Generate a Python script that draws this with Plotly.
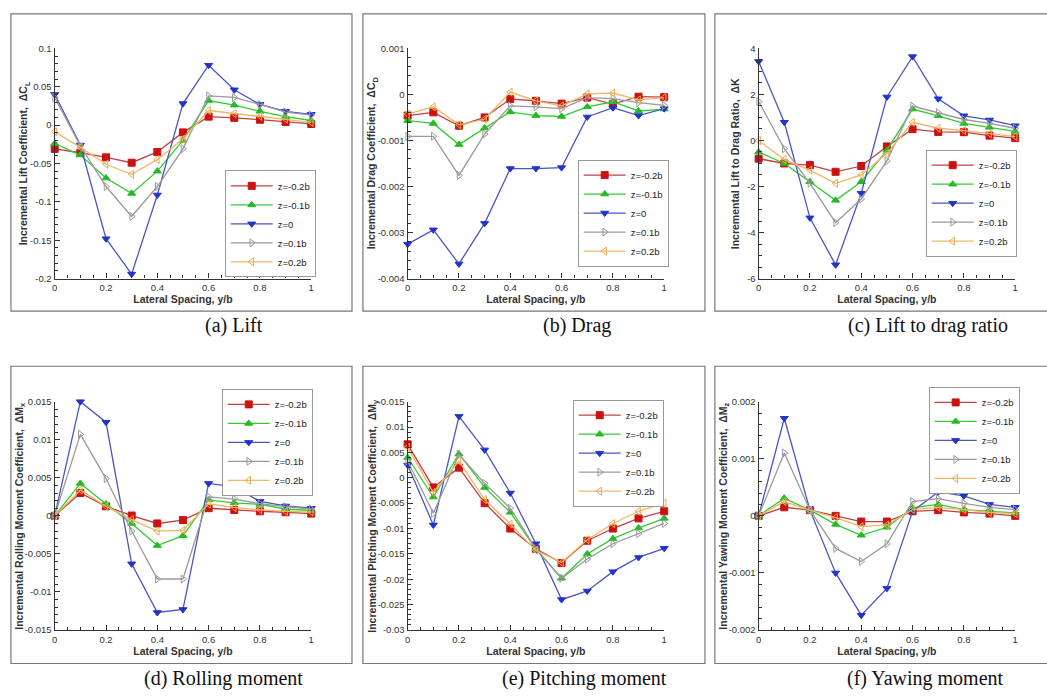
import plotly.graph_objects as go

W, H = 1047, 699

x_vals = [0, 0.1, 0.2, 0.3, 0.4, 0.5, 0.6, 0.7, 0.8, 0.9, 1.0]
series_names = ["z=-0.2b", "z=-0.1b", "z=0", "z=0.1b", "z=0.2b"]

# (a) Lift
lift_m02 = [-0.031, -0.036, -0.042, -0.049, -0.035, -0.0095, 0.011, 0.0095, 0.007, 0.004, 0.0015]
lift_m01 = [-0.024, -0.039, -0.069, -0.089, -0.060, -0.020, 0.032, 0.026, 0.018, 0.011, 0.006]
lift_0 = [0.040, -0.026, -0.148, -0.194, -0.091, 0.028, 0.078, 0.046, 0.027, 0.018, 0.014]
lift_p01 = [0.036, -0.027, -0.080, -0.119, -0.080, -0.031, 0.038, 0.036, 0.027, 0.017, 0.013]
lift_p02 = [-0.0085, -0.029, -0.051, -0.064, -0.045, -0.018, 0.019, 0.015, 0.0115, 0.0077, 0.0035]

# (b) Drag
drag_m02 = [-0.00046, -0.00039, -0.00068, -0.0005, -0.0001, -0.00014, -0.0002, -0.00007, -0.00021, -0.00005, -0.00006]
drag_m01 = [-0.00057, -0.00063, -0.00109, -0.00073, -0.00038, -0.00046, -0.00048, -0.00027, -0.00016, -0.00036, -0.00032]
drag_0 = [-0.00325, -0.00294, -0.00368, -0.0028, -0.00161, -0.00161, -0.00159, -0.00049, -0.00029, -0.00046, -0.00031]
drag_p01 = [-0.00091, -0.00091, -0.00176, -0.00086, -0.00025, -0.00027, -0.00031, -0.00007, -0.00009, -0.00018, -0.00024]
drag_p02 = [-0.00043, -0.00027, -0.00066, -0.00054, 0.00005, -0.00014, -0.00025, 0.00001, 0.00003, -0.00012, -0.00007]

# (c) Lift to drag ratio
ld_m02 = [-0.79, -1.0, -1.07, -1.36, -1.11, -0.26, 0.49, 0.37, 0.36, 0.21, 0.1]
ld_m01 = [-0.5, -1.0, -1.79, -2.6, -1.79, -0.43, 1.36, 1.07, 0.74, 0.57, 0.39]
ld_0 = [3.43, 0.79, -3.36, -5.4, -2.29, 1.89, 3.64, 1.81, 1.07, 0.89, 0.64]
ld_p01 = [1.69, -0.36, -1.86, -3.57, -2.54, -0.89, 1.49, 1.21, 0.91, 0.74, 0.53]
ld_p02 = [0.0, -0.83, -1.29, -1.86, -1.5, -0.57, 0.79, 0.53, 0.43, 0.29, 0.17]

# (d) Rolling moment
roll_m02 = [0, 0.003, 0.00125, 0.00004, -0.001, -0.00056, 0.001, 0.00077, 0.0006, 0.00047, 0.0003]
roll_m01 = [0, 0.00426, 0.00155, -0.001, -0.0039, -0.0026, 0.0021, 0.0017, 0.0015, 0.0009, 0.0007]
roll_0 = [0, 0.015, 0.0123, -0.0063, -0.0127, -0.0123, 0.00426, 0.0038, 0.0019, 0.0013, 0.001]
roll_p01 = [0, 0.0107, 0.0049, -0.002, -0.0083, -0.0083, 0.0025, 0.0022, 0.0016, 0.0012, 0.0009]
roll_p02 = [0, 0.0034, 0.00125, -0.0005, -0.002, -0.0019, 0.00155, 0.0011, 0.0008, 0.0006, 0.0005]

# (e) Pitching moment
pitch_m02 = [0.0066, -0.0019, 0.002, -0.005, -0.01, -0.014, -0.0168, -0.0124, -0.01, -0.008, -0.0066]
pitch_m01 = [0.004, -0.0038, 0.0047, -0.0019, -0.0068, -0.014, -0.0198, -0.015, -0.012, -0.0099, -0.008]
pitch_0 = [0.0025, -0.0093, 0.0121, 0.0055, -0.003, -0.013, -0.024, -0.0223, -0.0185, -0.0157, -0.0139]
pitch_p01 = [0.0033, -0.007, 0.0046, -0.0011, -0.006, -0.014, -0.0198, -0.016, -0.013, -0.011, -0.009]
pitch_p02 = [0.006, -0.0029, 0.0033, -0.0043, -0.0091, -0.0143, -0.0167, -0.0122, -0.009, -0.0066, -0.005]

# (f) Yawing moment
yaw_m02 = [0, 0.00015, 0.0001, 0, -0.0001, -0.0001, 0.00008, 0.0001, 0.00006, 0.00004, 0]
yaw_m01 = [0, 0.00031, 0.0001, -0.00015, -0.00034, -0.0002, 0.00014, 0.0002, 0.00011, 0.00008, 0.00005]
yaw_0 = [0, 0.00171, 0.0001, -0.001, -0.00174, -0.00127, 0.00008, 0.00042, 0.00035, 0.0002, 0.00015]
yaw_p01 = [0, 0.0011, 0.0001, -0.00057, -0.0008, -0.00049, 0.00025, 0.0003, 0.00022, 0.00015, 0.00011]
yaw_p02 = [0, 0.00025, 0.0001, -0.00003, -0.00019, -0.00016, 0.00011, 0.00015, 0.00011, 0.00006, 0.00004]

x_tick_vals = [0, 0.2, 0.4, 0.6, 0.8, 1.0]
x_tick_text = ["0", "0.2", "0.4", "0.6", "0.8", "1"]
x_title = "Lateral Spacing, y/b"

lift_ticks = [0.1, 0.05, 0, -0.05, -0.1, -0.15, -0.2]
lift_text = ["0.1", "0.05", "0", "-0.05", "-0.1", "-0.15", "-0.2"]
drag_ticks = [0.001, 0, -0.001, -0.002, -0.003, -0.004]
drag_text = ["0.001", "0", "-0.001", "-0.002", "-0.003", "-0.004"]
ld_ticks = [4, 2, 0, -2, -4, -6]
ld_text = ["4", "2", "0", "-2", "-4", "-6"]
roll_ticks = [0.015, 0.01, 0.005, 0, -0.005, -0.01, -0.015]
roll_text = ["0.015", "0.01", "0.005", "0", "-0.005", "-0.01", "-0.015"]
pitch_ticks = [0.015, 0.01, 0.005, 0, -0.005, -0.01, -0.015, -0.02, -0.025, -0.03]
pitch_text = ["0.015", "0.01", "0.005", "0", "-0.005", "-0.01", "-0.015", "-0.02", "-0.025", "-0.03"]
yaw_ticks = [0.002, 0.001, 0, -0.001, -0.002]
yaw_text = ["0.002", "0.001", "0", "-0.001", "-0.002"]

panels = [
    dict(data=[lift_m02, lift_m01, lift_0, lift_p01, lift_p02], ticks=lift_ticks, text=lift_text,
         minor=0.01, title="Incremental Lift Coefficient,  ΔC<sub>L</sub>", caption="(a) Lift"),
    dict(data=[drag_m02, drag_m01, drag_0, drag_p01, drag_p02], ticks=drag_ticks, text=drag_text,
         minor=0.0002, title="Incremental Drag Coefficient,  ΔC<sub>D</sub>", caption="(b) Drag"),
    dict(data=[ld_m02, ld_m01, ld_0, ld_p01, ld_p02], ticks=ld_ticks, text=ld_text,
         minor=0.5, title="Incremental Lift to Drag Ratio,  ΔK", caption="(c) Lift to drag ratio"),
    dict(data=[roll_m02, roll_m01, roll_0, roll_p01, roll_p02], ticks=roll_ticks, text=roll_text,
         minor=0.001, title="Incremental Rolling Moment Coefficient,  ΔM<sub>x</sub>", caption="(d) Rolling moment"),
    dict(data=[pitch_m02, pitch_m01, pitch_0, pitch_p01, pitch_p02], ticks=pitch_ticks, text=pitch_text,
         minor=0.001, title="Incremental Pitching Moment Coefficient,  ΔM<sub>y</sub>", caption="(e) Pitching moment"),
    dict(data=[yaw_m02, yaw_m01, yaw_0, yaw_p01, yaw_p02], ticks=yaw_ticks, text=yaw_text,
         minor=0.0002, title="Incremental Yawing Moment Coefficient,  ΔM<sub>z</sub>", caption="(f) Yawing moment"),
]

line_colors = ["#c44040", "#33cc33", "#4a56c0", "#9a9a9a", "#efb766"]
marker_colors = ["#cc1111", "#22bb22", "#2233cc", "#9a9a9a", "#e8aa55"]
symbols = ["square", "triangle-up", "triangle-down", "triangle-right-open", "triangle-left-open"]

# layout geometry in pixels
col_x = [(52, 310), (407, 665), (760, 1018)]
row_y = [(43, 277), (402, 634)]
boxes_x = [(8, 351), (362, 706), (716, 1060)]
boxes_y = [(8, 310), (366, 668)]
legend_pos = [(223, 167), (578, 156), (928, 146), (220, 389), (573, 400), (931, 387)]
caption_pos = [(232, 325), (577, 325), (930, 325), (222, 683), (585, 683), (928, 683)]
ytitle_x = [22, 372, 737, 17, 372, 725]

FONT = "Arial, 'Liberation Sans', sans-serif"

def px(xp):
    return xp / W

def py(yp):
    return 1 - yp / H

fig = go.Figure()
layout = dict(width=W, height=H, margin=dict(l=0, r=0, t=0, b=0),
              paper_bgcolor="white", plot_bgcolor="white",
              font=dict(family=FONT, size=10, color="#222"))
shapes = []
annotations = []

for i, p in enumerate(panels):
    r, c = divmod(i, 3)
    ax = "" if i == 0 else str(i + 1)
    leg = "legend" if i == 0 else f"legend{i + 1}"
    for k, name in enumerate(series_names):
        fig.add_trace(go.Scatter(
            x=x_vals, y=p["data"][k], name=name, mode="lines+markers",
            xaxis="x" + ax, yaxis="y" + ax, legend=leg, cliponaxis=False,
            line=dict(color=line_colors[k], width=1.3),
            marker=dict(symbol=symbols[k], size=7, color=marker_colors[k],
                        line=dict(color=marker_colors[k], width=1))))
    x0, x1 = col_x[c]
    y0, y1 = row_y[r]
    ymin, ymax = min(p["ticks"]), max(p["ticks"])
    layout["xaxis" + ax] = dict(
        domain=[px(x0), px(x1)], anchor="y" + ax, range=[0, 1],
        tickvals=x_tick_vals, ticktext=x_tick_text, ticks="inside", ticklen=5,
        tickcolor="#333", showline=True, linecolor="#333", linewidth=1.3,
        showgrid=False, zeroline=False, tickfont=dict(size=9.5, color="#333"),
        minor=dict(dtick=0.05, ticks="inside", ticklen=3, tickcolor="#333"),
        title=dict(text="<b>" + x_title + "</b>", standoff=1, font=dict(size=10.5, color="#333")))
    layout["yaxis" + ax] = dict(
        domain=[py(y1), py(y0)], anchor="x" + ax, range=[ymin, ymax],
        tickvals=p["ticks"], ticktext=p["text"], ticks="inside", ticklen=5,
        tickcolor="#333", showline=True, linecolor="#333", linewidth=1.3,
        showgrid=False, zeroline=False, tickfont=dict(size=9.5, color="#333"),
        minor=dict(dtick=p["minor"], ticks="inside", ticklen=3, tickcolor="#333"))
    annotations.append(dict(
        text="<b>" + p["title"] + "</b>", textangle=-90, xref="paper", yref="paper",
        x=px(ytitle_x[i]), y=py((y0 + y1) / 2), showarrow=False,
        font=dict(size=10.5, color="#333"), xanchor="center", yanchor="middle"))
    lx, ly = legend_pos[i]
    layout[leg] = dict(x=px(lx), y=py(ly), xanchor="left", yanchor="top",
                       bgcolor="white", bordercolor="#999", borderwidth=1,
                       itemwidth=42, font=dict(size=9.5, color="#222"),
                       tracegroupgap=0)
    bx0, bx1 = boxes_x[c]
    by0, by1 = boxes_y[r]
    shapes.append(dict(type="rect", xref="paper", yref="paper",
                       x0=px(bx0), x1=px(bx1), y0=py(by1), y1=py(by0),
                       line=dict(color="#777", width=1.2)))
    cx, cy = caption_pos[i]
    annotations.append(dict(
        text=p["caption"], xref="paper", yref="paper", x=px(cx), y=py(cy),
        showarrow=False, xanchor="center", yanchor="middle",
        font=dict(family="'Times New Roman', 'Liberation Serif', serif", size=20, color="#111")))

layout["shapes"] = shapes
layout["annotations"] = annotations
fig.update_layout(**layout)
fig.write_html("out.html", config={"displayModeBar": False},
               post_script="document.body.style.margin='0px';document.body.style.overflow='hidden';")
